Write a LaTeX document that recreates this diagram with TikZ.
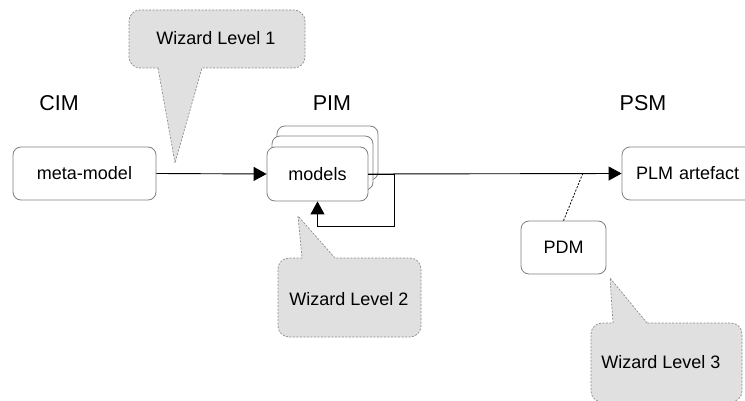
\documentclass[tikz,border=0pt]{standalone}
\usepackage{fontspec}
\setmainfont{Liberation Sans}
\usetikzlibrary{arrows.meta}
\definecolor{boxgray}{RGB}{128,128,128}
\definecolor{callfill}{RGB}{224,224,224}
\definecolor{calldraw}{RGB}{140,140,140}
\tikzset{
  mbox/.style={draw=boxgray, line width=0.8pt, fill=white, rounded corners=8pt,
    font=\fontsize{18}{20}\selectfont, inner sep=0pt},
  head/.style={font=\fontsize{21.5}{24}\selectfont, inner sep=0pt},
  calltext/.style={font=\fontsize{18}{20}\selectfont, inner sep=0pt},
  callout/.style={fill=callfill, draw=calldraw, line width=0.7pt, dash pattern=on 2pt off 1.5pt},
  arr/.style={draw=black, line width=0.9pt, -{Triangle[length=13pt,width=14pt]}},
  link/.style={draw=black, line width=0.8pt, dash pattern=on 2pt off 1.5pt}
}
\begin{document}
\begin{tikzpicture}[x=1pt,y=-1pt]
\useasboundingbox (0,0) rectangle (745,401);
% callout 1
\draw[callout] (158,68) -- (175,163) -- (202,68) {[rounded corners=11pt] -- (305,68) -- (305,10) -- (129,10) -- (129,68)} -- cycle;
\node[calltext] (w1) at (216,38) {Wizard Level 1};
% callout 2
\draw[callout] (335,258) -- (298,216) -- (302,258) {[rounded corners=11pt] -- (278,258) -- (278,337) -- (421,337) -- (421,258)} -- cycle;
\node[calltext] (w2) at (349,299) {Wizard Level 2};
% callout 3
\draw[callout] (647,323) -- (610,278) -- (613,323) {[rounded corners=11pt] -- (591,323) -- (591,402) -- (742,402) -- (742,323)} -- cycle;
\node[calltext] (w3) at (661,362) {Wizard Level 3};
% headings
\node[head] (cim) at (59,103) {CIM};
\node[head] (pim) at (332,103) {PIM};
\node[head] (psm) at (643,103) {PSM};
% boxes
\node[mbox, minimum width=143pt, minimum height=53pt] (meta) at (84.5,173.5) {meta-model};
\node[mbox, minimum width=101pt, minimum height=54pt] (models3) at (327.5,153) {};
\node[mbox, minimum width=101pt, minimum height=54pt] (models2) at (322.5,163) {};
\node[mbox, minimum width=101pt, minimum height=54pt] (models) at (317.5,174) {models};
\node[mbox, minimum width=140pt, minimum height=53pt, text width=140pt, align=left] (plm) at (692,173.5) {\hspace*{14pt}PLM artefact};
\node[mbox, minimum width=85pt, minimum height=53pt] (pdm) at (563.5,247.5) {PDM};
% connectors
\coordinate (lp) at (394,226);
\coordinate (dp) at (583,173);
\draw[arr] (meta.east) -- (models.west);
\draw[arr] (models.east) -- (plm.west);
\draw[arr] (models.east) -| (lp) -| (models.south);
\draw[link] (pdm.north) -- (dp);
\end{tikzpicture}
\end{document}
